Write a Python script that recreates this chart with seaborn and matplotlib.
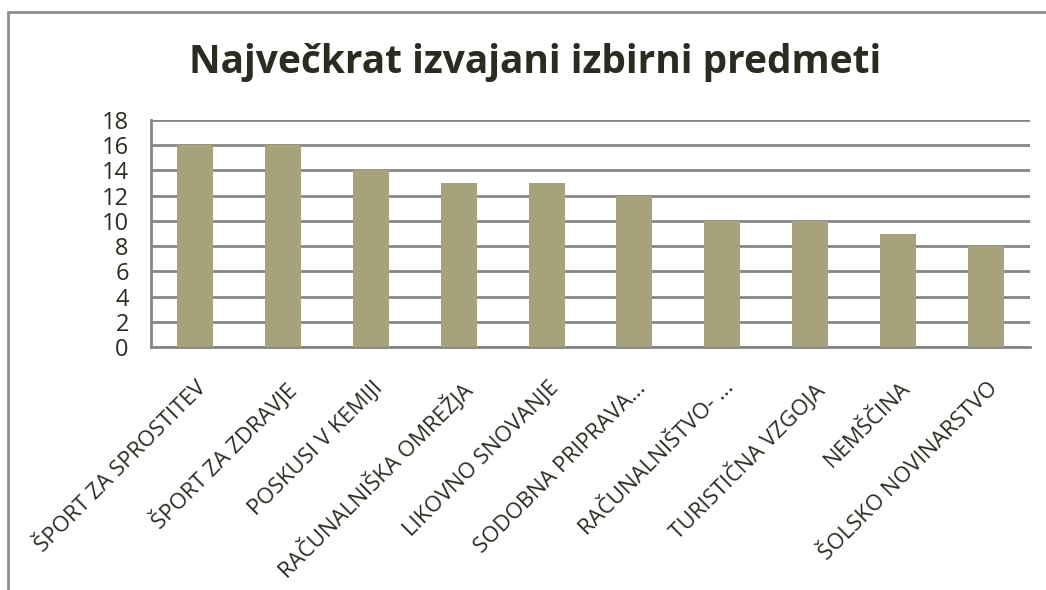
import matplotlib
matplotlib.use("Agg")
import matplotlib.pyplot as plt
import seaborn as sns
import pandas as pd
from matplotlib.lines import Line2D

# chart data
subjects = [
    "ŠPORT ZA SPROSTITEV", "ŠPORT ZA ZDRAVJE", "POSKUSI V KEMIJI",
    "RAČUNALNIŠKA OMREŽJA", "LIKOVNO SNOVANJE", "SODOBNA PRIPRAVA...",
    "RAČUNALNIŠTVO- ...", "TURISTIČNA VZGOJA", "NEMŠČINA", "ŠOLSKO NOVINARSTVO",
]
counts = [16, 16, 14, 13, 13, 12, 10, 10, 9, 8]
y_ticks = list(range(0, 20, 2))

BAR = "#a7a27b"
GRID = "#868686"
TEXT = "#2b2b22"

sns.set_style("white")
plt.rcParams['font.family'] = ['Open Sans', 'DejaVu Sans']

df = pd.DataFrame({"subject": subjects, "count": counts})

fig = plt.figure(figsize=(10.46, 5.90), dpi=100)
ax = fig.add_axes([151 / 1046, 1 - 347 / 590, (1030 - 151) / 1046, (347 - 120) / 590])

sns.barplot(data=df, x="subject", y="count", color=BAR, saturation=1,
            width=0.41, linewidth=0, edgecolor=BAR, ax=ax, zorder=3)

ax.set_ylim(0, 18)
ax.set_xlim(-0.5, len(subjects) - 0.5)
ax.set_yticks(y_ticks)
ax.set_yticklabels([str(v) for v in y_ticks], fontsize=17, color=TEXT)
ax.yaxis.grid(True, color=GRID, linewidth=2, zorder=0)
ax.set_axisbelow(True)
ax.set_xlabel("")
ax.set_ylabel("")

for side in ["top", "right"]:
    ax.spines[side].set_visible(False)
for side in ["left", "bottom"]:
    ax.spines[side].set_color(GRID)
    ax.spines[side].set_linewidth(2)

# category boundary ticks on the x axis
ax.set_xticks([i - 0.5 for i in range(len(subjects) + 1)], minor=False)
ax.set_xticklabels([])
ax.tick_params(axis="x", length=6, width=2, color=GRID, direction="out")
ax.tick_params(axis="y", length=6, width=2, color=GRID, direction="out", pad=10)

for i, name in enumerate(subjects):
    ax.annotate(name, xy=(i, 0), xycoords=("data", "axes fraction"),
                xytext=(1, -22), textcoords="offset points",
                rotation=45, ha="right", va="top", rotation_mode="anchor",
                fontsize=16, color=TEXT)

fig.text(535 / 1046, 1 - 62 / 590, "Največkrat izvajani izbirni predmeti",
         ha="center", va="center", fontsize=28, fontweight="bold", color=TEXT)

# chart border (only top and left edges visible)
fig.add_artist(Line2D([8 / 1046, 8 / 1046], [0, 1 - 12 / 590],
                      transform=fig.transFigure, color="#8c8c8c", linewidth=2))
fig.add_artist(Line2D([8 / 1046, 1], [1 - 12 / 590, 1 - 12 / 590],
                      transform=fig.transFigure, color="#8c8c8c", linewidth=2))

fig.savefig("out.png", dpi=100, facecolor="white")
